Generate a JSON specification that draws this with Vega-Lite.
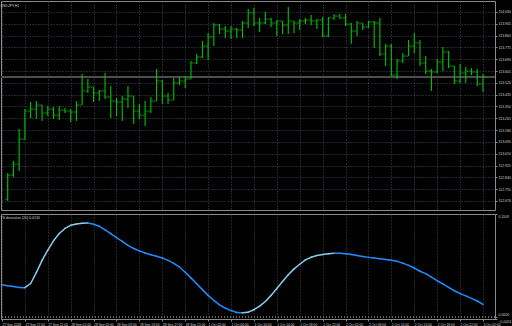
{
  "$schema": "https://vega.github.io/schema/vega-lite/v6.json",
  "background": "#000000",
  "padding": 0,
  "spacing": 2,
  "config": {
    "view": {"stroke": "#8a8a8a", "strokeWidth": 1},
    "font": "Liberation Sans"
  },
  "datasets": {
    "bars": [
      {"i":0,"o":112.683,"h":112.871,"l":112.669,"c":112.856},
      {"i":1,"o":112.856,"h":112.957,"l":112.842,"c":112.935},
      {"i":2,"o":112.935,"h":113.187,"l":112.885,"c":113.115},
      {"i":3,"o":113.115,"h":113.331,"l":113.108,"c":113.317},
      {"i":4,"o":113.317,"h":113.382,"l":113.267,"c":113.331},
      {"i":5,"o":113.331,"h":113.389,"l":113.259,"c":113.360},
      {"i":6,"o":113.360,"h":113.360,"l":113.245,"c":113.303},
      {"i":7,"o":113.303,"h":113.353,"l":113.281,"c":113.331},
      {"i":8,"o":113.331,"h":113.346,"l":113.259,"c":113.288},
      {"i":9,"o":113.288,"h":113.353,"l":113.252,"c":113.324},
      {"i":10,"o":113.324,"h":113.339,"l":113.303,"c":113.317},
      {"i":11,"o":113.317,"h":113.331,"l":113.238,"c":113.310},
      {"i":12,"o":113.310,"h":113.389,"l":113.245,"c":113.360},
      {"i":13,"o":113.360,"h":113.583,"l":113.360,"c":113.461},
      {"i":14,"o":113.461,"h":113.547,"l":113.447,"c":113.490},
      {"i":15,"o":113.490,"h":113.490,"l":113.382,"c":113.447},
      {"i":16,"o":113.447,"h":113.468,"l":113.389,"c":113.461},
      {"i":17,"o":113.461,"h":113.591,"l":113.403,"c":113.418},
      {"i":18,"o":113.418,"h":113.497,"l":113.267,"c":113.389},
      {"i":19,"o":113.389,"h":113.411,"l":113.281,"c":113.382},
      {"i":20,"o":113.382,"h":113.425,"l":113.245,"c":113.403},
      {"i":21,"o":113.403,"h":113.497,"l":113.339,"c":113.425},
      {"i":22,"o":113.425,"h":113.425,"l":113.223,"c":113.317},
      {"i":23,"o":113.317,"h":113.367,"l":113.259,"c":113.288},
      {"i":24,"o":113.288,"h":113.389,"l":113.209,"c":113.317},
      {"i":25,"o":113.317,"h":113.418,"l":113.303,"c":113.389},
      {"i":26,"o":113.389,"h":113.619,"l":113.389,"c":113.533},
      {"i":27,"o":113.533,"h":113.540,"l":113.367,"c":113.425},
      {"i":28,"o":113.425,"h":113.447,"l":113.367,"c":113.396},
      {"i":29,"o":113.396,"h":113.555,"l":113.396,"c":113.519},
      {"i":30,"o":113.519,"h":113.562,"l":113.504,"c":113.533},
      {"i":31,"o":113.533,"h":113.569,"l":113.483,"c":113.547},
      {"i":32,"o":113.547,"h":113.677,"l":113.547,"c":113.663},
      {"i":33,"o":113.663,"h":113.727,"l":113.655,"c":113.706},
      {"i":34,"o":113.706,"h":113.821,"l":113.699,"c":113.785},
      {"i":35,"o":113.785,"h":113.879,"l":113.684,"c":113.850},
      {"i":36,"o":113.850,"h":113.951,"l":113.785,"c":113.936},
      {"i":37,"o":113.936,"h":113.943,"l":113.871,"c":113.907},
      {"i":38,"o":113.907,"h":113.929,"l":113.843,"c":113.893},
      {"i":39,"o":113.893,"h":113.929,"l":113.835,"c":113.907},
      {"i":40,"o":113.907,"h":113.915,"l":113.843,"c":113.900},
      {"i":41,"o":113.900,"h":113.965,"l":113.843,"c":113.951},
      {"i":42,"o":113.951,"h":114.051,"l":113.915,"c":114.023},
      {"i":43,"o":114.023,"h":114.059,"l":113.929,"c":113.951},
      {"i":44,"o":113.951,"h":113.987,"l":113.886,"c":113.951},
      {"i":45,"o":113.951,"h":114.030,"l":113.943,"c":113.979},
      {"i":46,"o":113.979,"h":113.987,"l":113.922,"c":113.951},
      {"i":47,"o":113.951,"h":113.972,"l":113.857,"c":113.965},
      {"i":48,"o":113.965,"h":113.965,"l":113.871,"c":113.936},
      {"i":49,"o":113.936,"h":114.066,"l":113.871,"c":113.965},
      {"i":50,"o":113.965,"h":113.965,"l":113.879,"c":113.951},
      {"i":51,"o":113.951,"h":113.979,"l":113.900,"c":113.965},
      {"i":52,"o":113.965,"h":113.987,"l":113.943,"c":113.972},
      {"i":53,"o":113.972,"h":114.008,"l":113.936,"c":113.965},
      {"i":54,"o":113.965,"h":113.979,"l":113.907,"c":113.972},
      {"i":55,"o":113.972,"h":113.994,"l":113.850,"c":113.857},
      {"i":56,"o":113.857,"h":113.994,"l":113.850,"c":113.987},
      {"i":57,"o":113.987,"h":114.015,"l":113.972,"c":114.001},
      {"i":58,"o":114.001,"h":114.015,"l":113.979,"c":113.987},
      {"i":59,"o":113.987,"h":114.015,"l":113.929,"c":113.943},
      {"i":60,"o":113.943,"h":113.951,"l":113.799,"c":113.893},
      {"i":61,"o":113.893,"h":113.965,"l":113.857,"c":113.951},
      {"i":62,"o":113.951,"h":113.951,"l":113.900,"c":113.922},
      {"i":63,"o":113.922,"h":113.965,"l":113.915,"c":113.958},
      {"i":64,"o":113.958,"h":113.965,"l":113.771,"c":113.951},
      {"i":65,"o":113.951,"h":113.987,"l":113.713,"c":113.727},
      {"i":66,"o":113.727,"h":113.799,"l":113.641,"c":113.785},
      {"i":67,"o":113.785,"h":113.799,"l":113.569,"c":113.576},
      {"i":68,"o":113.576,"h":113.691,"l":113.547,"c":113.677},
      {"i":69,"o":113.677,"h":113.735,"l":113.663,"c":113.713},
      {"i":70,"o":113.713,"h":113.828,"l":113.713,"c":113.785},
      {"i":71,"o":113.785,"h":113.879,"l":113.735,"c":113.807},
      {"i":72,"o":113.807,"h":113.828,"l":113.641,"c":113.663},
      {"i":73,"o":113.663,"h":113.713,"l":113.583,"c":113.605},
      {"i":74,"o":113.605,"h":113.619,"l":113.461,"c":113.598},
      {"i":75,"o":113.598,"h":113.691,"l":113.591,"c":113.670},
      {"i":76,"o":113.670,"h":113.778,"l":113.605,"c":113.742},
      {"i":77,"o":113.742,"h":113.749,"l":113.627,"c":113.641},
      {"i":78,"o":113.641,"h":113.641,"l":113.511,"c":113.533},
      {"i":79,"o":113.533,"h":113.655,"l":113.519,"c":113.591},
      {"i":80,"o":113.591,"h":113.634,"l":113.519,"c":113.605},
      {"i":81,"o":113.605,"h":113.627,"l":113.576,"c":113.598},
      {"i":82,"o":113.598,"h":113.619,"l":113.497,"c":113.511},
      {"i":83,"o":113.511,"h":113.583,"l":113.454,"c":113.562}
    ],
    "osc": [
      {"i":-1,"v":0.0345},{"i":0,"v":0.0336},{"i":1,"v":0.0327},{"i":2,"v":0.0316},{"i":3,"v":0.0314},
      {"i":4,"v":0.0359},{"i":5,"v":0.0476},{"i":6,"v":0.0609},{"i":7,"v":0.0720},{"i":8,"v":0.0820},
      {"i":9,"v":0.0898},{"i":10,"v":0.0953},{"i":11,"v":0.0987},{"i":12,"v":0.1002},{"i":13,"v":0.1009},
      {"i":14,"v":0.1011},{"i":15,"v":0.0998},{"i":16,"v":0.0976},{"i":17,"v":0.0937},{"i":18,"v":0.0898},
      {"i":19,"v":0.0854},{"i":20,"v":0.0814},{"i":21,"v":0.0771},{"i":22,"v":0.0737},{"i":23,"v":0.0711},
      {"i":24,"v":0.0689},{"i":25,"v":0.0670},{"i":26,"v":0.0654},{"i":27,"v":0.0635},{"i":28,"v":0.0609},
      {"i":29,"v":0.0576},{"i":30,"v":0.0537},{"i":31,"v":0.0481},{"i":32,"v":0.0420},{"i":33,"v":0.0357},
      {"i":34,"v":0.0293},{"i":35,"v":0.0231},{"i":36,"v":0.0176},{"i":37,"v":0.0128},{"i":38,"v":0.0093},
      {"i":39,"v":0.0067},{"i":40,"v":0.0047},{"i":41,"v":0.0043},{"i":42,"v":0.0050},{"i":43,"v":0.0076},
      {"i":44,"v":0.0115},{"i":45,"v":0.0165},{"i":46,"v":0.0231},{"i":47,"v":0.0306},{"i":48,"v":0.0381},
      {"i":49,"v":0.0454},{"i":50,"v":0.0517},{"i":51,"v":0.0567},{"i":52,"v":0.0614},{"i":53,"v":0.0642},
      {"i":54,"v":0.0661},{"i":55,"v":0.0671},{"i":56,"v":0.0680},{"i":57,"v":0.0686},{"i":58,"v":0.0686},
      {"i":59,"v":0.0681},{"i":60,"v":0.0672},{"i":61,"v":0.0661},{"i":62,"v":0.0650},{"i":63,"v":0.0641},
      {"i":64,"v":0.0634},{"i":65,"v":0.0627},{"i":66,"v":0.0619},{"i":67,"v":0.0609},{"i":68,"v":0.0598},
      {"i":69,"v":0.0579},{"i":70,"v":0.0555},{"i":71,"v":0.0526},{"i":72,"v":0.0491},{"i":73,"v":0.0465},
      {"i":74,"v":0.0427},{"i":75,"v":0.0389},{"i":76,"v":0.0354},{"i":77,"v":0.0318},{"i":78,"v":0.0281},
      {"i":79,"v":0.0250},{"i":80,"v":0.0226},{"i":81,"v":0.0198},{"i":82,"v":0.0170},{"i":83,"v":0.0134}
    ]
  },
  "vconcat": [
    {
      "width": 494,
      "height": 209,
      "title": {"text": "USDJPY,H1", "anchor": "start", "orient": "top", "offset": -6, "baseline": "top", "fontSize": 3.5, "fontWeight": "normal", "color": "#d0d0d0", "font": "Liberation Sans"},
      "data": {"name": "bars"},
      "layer": [
        {
          "mark": {"type": "rule", "color": "#4e4e4e", "strokeWidth": 1},
          "encoding": {
            "y": {"datum": 113.562, "type": "quantitative",
              "scale": {"domain": [112.605, 114.109], "nice": false, "zero": false},
              "axis": {"orient": "right", "values": [114.03,113.945,113.86,113.775,113.69,113.605,113.52,113.435,113.35,113.265,113.18,113.095,113.01,112.925,112.84,112.755,112.67], "tickCount": 100, "format": ".3f", "labelFontSize": 3.5, "labelColor": "#d0d0d0", "labelPadding": 1, "tickSize": 2, "tickColor": "#8a8a8a", "domainColor": "#8a8a8a", "grid": true, "gridColor": "#444a56", "gridDash": [1, 2], "title": null, "labelOverlap": false, "labelFlush": false}}
          }
        },
        {
          "mark": {"type": "rule", "color": "#00c400", "strokeWidth": 1.1},
          "encoding": {
            "x": {"field": "i", "type": "quantitative",
              "scale": {"domain": [-1.17, 85.1], "nice": false, "zero": false},
              "axis": {"values": [-1,3,7,11,15,19,23,27,31,35,39,43,47,51,55,59,63,67,71,75,79,83], "tickCount": 100, "labels": false, "ticks": false, "domain": false, "grid": true, "gridColor": "#444a56", "gridDash": [1, 2], "title": null}},
            "y": {"field": "l", "type": "quantitative"},
            "y2": {"field": "h"}
          }
        },
        {
          "mark": {"type": "tick", "orient": "horizontal", "color": "#00c400", "size": 2.5, "thickness": 1, "xOffset": -1.5},
          "encoding": {"x": {"field": "i", "type": "quantitative"}, "y": {"field": "o", "type": "quantitative"}}
        },
        {
          "mark": {"type": "tick", "orient": "horizontal", "color": "#00c400", "size": 2.5, "thickness": 1, "xOffset": 1.5},
          "encoding": {"x": {"field": "i", "type": "quantitative"}, "y": {"field": "c", "type": "quantitative"}}
        }
      ]
    },
    {
      "width": 494,
      "height": 105,
      "title": {"text": "TS derivative (20) 0.0134", "anchor": "start", "orient": "top", "offset": -6, "baseline": "top", "fontSize": 3.5, "fontWeight": "normal", "color": "#d0d0d0", "font": "Liberation Sans"},
      "data": {"name": "osc"},
      "transform": [
        {"window": [{"op": "lead", "field": "v", "as": "v2"}, {"op": "lead", "field": "i", "as": "i2"}], "sort": [{"field": "i"}]},
        {"filter": "datum.i2 != null"}
      ],
      "layer": [
        {
          "mark": {"type": "rule", "strokeWidth": 1.5, "strokeCap": "round"},
          "encoding": {
            "x": {"field": "i", "type": "quantitative",
              "scale": {"domain": [-1.17, 85.1], "nice": false, "zero": false},
              "axis": {"values": [-1,3,7,11,15,19,23,27,31,35,39,43,47,51,55,59,63,67,71,75,79,83], "tickCount": 100,
                "labelExpr": "['27 Sep 2018','27 Sep 17:00','27 Sep 21:00','28 Sep 01:00','28 Sep 05:00','28 Sep 09:00','28 Sep 13:00','28 Sep 17:00','28 Sep 21:00','1 Oct 02:00','1 Oct 06:00','1 Oct 10:00','1 Oct 14:00','1 Oct 18:00','1 Oct 22:00','2 Oct 02:00','2 Oct 06:00','2 Oct 10:00','2 Oct 14:00','2 Oct 18:00','2 Oct 22:00','3 Oct 02:00'][(datum.value + 1) / 4]",
                "labelAlign": "left", "labelFontSize": 3.3, "labelColor": "#d0d0d0", "labelPadding": 1, "labelOverlap": false, "labelFlush": false, "tickSize": 2, "tickColor": "#8a8a8a", "domainColor": "#8a8a8a", "grid": true, "gridColor": "#444a56", "gridDash": [1, 2], "title": null}},
            "x2": {"field": "i2"},
            "y": {"field": "v", "type": "quantitative",
              "scale": {"domain": [-0.0024, 0.1109], "nice": false, "zero": false},
              "axis": {"orient": "right", "values": [0.1109, 0, -0.0024], "tickCount": 100, "format": ".4f", "labelFontSize": 3.5, "labelColor": "#d0d0d0", "labelPadding": 1, "tickSize": 2, "tickColor": "#8a8a8a", "domainColor": "#8a8a8a", "grid": false, "title": null, "labelOverlap": false, "labelFlush": false,
                "labelBaseline": {"condition": {"test": "datum.value != 0", "value": "top"}, "value": "bottom"}}},
            "y2": {"field": "v2"},
            "color": {"condition": {"test": "datum.v2 > datum.v", "value": "#87ceeb"}, "value": "#1e8fff"}
          }
        },
        {
          "mark": {"type": "rule", "color": "#6a6a6a", "strokeDash": [1, 2], "strokeWidth": 1},
          "encoding": {
            "y": {"datum": 0, "type": "quantitative"}
          }
        }
      ]
    }
  ]
}
